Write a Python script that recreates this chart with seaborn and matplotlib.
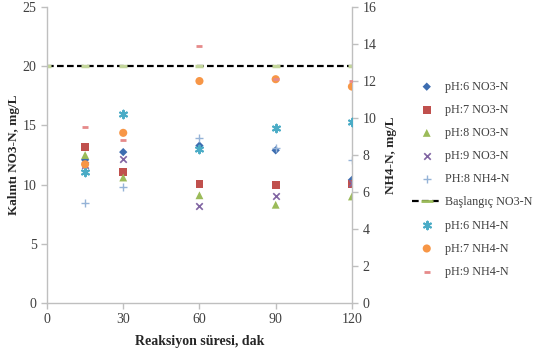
import matplotlib
matplotlib.use('Agg')
import matplotlib.pyplot as plt
import seaborn as sns
import pandas as pd

time = [15, 30, 60, 90, 120]
start_time = [0, 15, 30, 60, 90, 120]

ph6_no3 = [12.1, 12.75, 13.3, 12.9, 10.4]
ph7_no3 = [13.2, 11.05, 10.05, 10.0, 10.05]
ph8_no3 = [12.5, 10.6, 9.1, 8.3, 9.0]
ph9_no3 = [11.7, 12.2, 8.2, 9.0, 10.1]
ph8_nh4 = [8.45, 9.8, 13.9, 13.1, 12.1]
start_no3 = [20, 20, 20, 20, 20, 20]

ph6_nh4 = [7.1, 10.2, 8.3, 9.45, 9.8]
ph7_nh4 = [7.5, 9.2, 12.0, 12.1, 11.7]
ph9_nh4 = [9.5, 8.8, 13.9, 12.1, 12.0]

sns.set_style('ticks')
plt.rcParams['font.family'] = ['Liberation Serif', 'DejaVu Serif']

fig = plt.figure(figsize=(5.34, 3.53), dpi=100)
ax = fig.add_axes([0.088, 0.1416, 0.571, 0.8384])
ax2 = ax.twinx()

left_series = [
    ('pH:6 NO3-N', ph6_no3, 'D', '#3D6DB0', 18, 1.0),
    ('pH:7 NO3-N', ph7_no3, 's', '#C0504D', 32, 1.0),
    ('pH:8 NO3-N', ph8_no3, '^', '#9BBB59', 32, 1.0),
    ('pH:9 NO3-N', ph9_no3, 'x', '#8064A2', 22, 1.2),
    ('PH:8 NH4-N', ph8_nh4, '+', '#95B3D7', 40, 1.0),
]
right_series = [
    ('pH:6 NH4-N', ph6_nh4, (6, 2, 0), '#4BACC6', 30, 1.5),
    ('pH:7 NH4-N', ph7_nh4, 'o', '#F79646', 34, 1.0),
    ('pH:9 NH4-N', ph9_nh4, '_', '#E68A8A', 18, 2.0),
]

handles = []
for name, vals, mk, col, size, lw in left_series:
    df = pd.DataFrame({'t': time, 'v': vals})
    sns.scatterplot(data=df, x='t', y='v', ax=ax, marker=mk, color=col, s=size,
                    linewidth=lw if mk in ('x', '+') else 0, edgecolor=col if mk in ('x', '+') else 'none',
                    legend=False, zorder=3)
    handles.append(ax.collections[-1])

# starting concentration: dashed line with small green markers
df0 = pd.DataFrame({'t': start_time, 'v': start_no3})
ax.plot([0, 120], [20, 20], ls=(0, (3, 1.5)), color='black', lw=1.6, zorder=2)
sns.scatterplot(data=df0, x='t', y='v', ax=ax, marker='_', color='#C3D69B', s=40,
                linewidth=2.5, legend=False, zorder=2.5)
base_handle = plt.Line2D([], [], ls=(0, (3, 1.5)), color='black', lw=1.6,
                         marker='_', markeredgecolor='#9BBB59', markersize=8, markeredgewidth=2)
handles.append(base_handle)

for name, vals, mk, col, size, lw in right_series:
    df = pd.DataFrame({'t': time, 'v': vals})
    line_mk = mk in ('_', (6, 2, 0))
    sns.scatterplot(data=df, x='t', y='v', ax=ax2, marker=mk, color=col, s=size,
                    linewidth=lw if line_mk else 0, edgecolor=col if line_mk else 'none',
                    legend=False, zorder=3)
    handles.append(ax2.collections[-1])

labels = [s[0] for s in left_series] + ['Başlangıç NO3-N'] + [s[0] for s in right_series]

ax.set_xlim(0, 120)
ax.set_ylim(0, 25)
ax2.set_ylim(0, 16)
ax.set_xticks([0, 30, 60, 90, 120])
ax.set_yticks([0, 5, 10, 15, 20, 25])
ax2.set_yticks(range(0, 17, 2))

grey = '#BFBFBF'
for a in (ax, ax2):
    a.spines['top'].set_visible(False)
    for side in ('left', 'bottom', 'right'):
        a.spines[side].set_color(grey)
        a.spines[side].set_linewidth(1.0)
    a.tick_params(colors=grey, labelcolor='#404040', labelsize=10, length=4, width=1)
ax.spines['right'].set_visible(False)
ax2.spines['left'].set_visible(False)
ax2.spines['bottom'].set_visible(False)

ax.set_xlabel('Reaksiyon süresi, dak', fontweight='bold', fontsize=10, color='#262626', labelpad=6)
ax.set_ylabel('Kalıntı NO3-N, mg/L', fontweight='bold', fontsize=9.5, color='#262626', labelpad=2)
ax2.set_ylabel('NH4-N, mg/L', fontweight='bold', fontsize=9.5, color='#262626', labelpad=6)

fig.legend(handles, labels, loc='upper left', bbox_to_anchor=(0.772, 0.771), frameon=False,
           fontsize=8.7, handlelength=2.4, handletextpad=0.3, labelspacing=0.92,
           labelcolor='#404040', borderaxespad=0, borderpad=0)

fig.savefig('out.png', dpi=100)
